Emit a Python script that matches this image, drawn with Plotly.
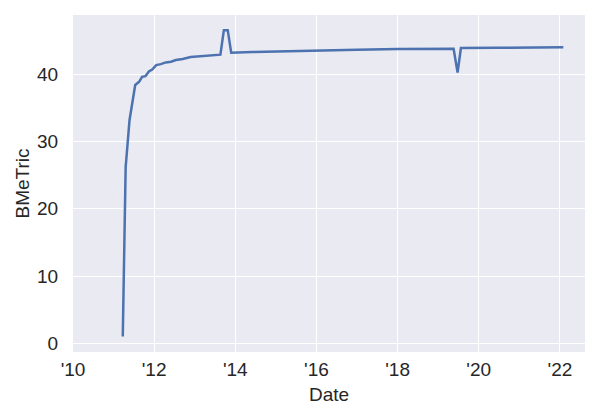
import plotly.graph_objects as go

dates = [
    "2011-03-25", "2011-04-20", "2011-05-25", "2011-06-10", "2011-07-15",
    "2011-08-20", "2011-09-15", "2011-10-15", "2011-11-15", "2011-12-15",
    "2012-01-20", "2012-03-01", "2012-04-15", "2012-06-01", "2012-07-15",
    "2012-09-15", "2012-11-25", "2013-08-20", "2013-09-20", "2013-10-25",
    "2013-11-25", "2014-06-01", "2015-01-01", "2016-01-01", "2017-01-01",
    "2018-01-01", "2019-05-20", "2019-06-25", "2019-07-25", "2020-06-01",
    "2022-02-01",
]
bmetric = [
    1.0, 26.2, 33.2, 34.9, 38.4,
    38.9, 39.6, 39.7, 40.4, 40.7,
    41.35, 41.5, 41.75, 41.85, 42.1,
    42.25, 42.55, 42.9, 46.55, 46.55,
    43.2, 43.3, 43.4, 43.55, 43.65,
    43.75, 43.8, 40.25, 43.9, 43.92,
    44.0,
]

fig = go.Figure(go.Scatter(
    x=dates, y=bmetric, mode="lines",
    line=dict(color="#4C72B0", width=2.5),
))

font = dict(family="Liberation Sans, Arial, sans-serif", size=19, color="#262626")
fig.update_layout(
    width=600, height=420,
    margin=dict(l=73, r=15, t=15, b=68),
    paper_bgcolor="white", plot_bgcolor="#EAEAF2",
    font=font, showlegend=False,
)
fig.update_xaxes(
    type="date", range=["2010-01-01", "2022-08-15"],
    tick0="2010-01-01", dtick="M24", tickformat="'%y",
    showgrid=True, gridcolor="white", gridwidth=1.3,
    zeroline=False, showline=False, automargin=False,
    ticks="outside", ticklen=0, tickcolor="rgba(0,0,0,0)",
    title=dict(text="Date", font=dict(size=19), standoff=8),
    tickfont=dict(size=19),
)
fig.update_yaxes(
    range=[-1.29, 48.8], tick0=0, dtick=10,
    showgrid=True, gridcolor="white", gridwidth=1.3,
    zeroline=False, showline=False, automargin=False,
    ticks="outside", ticklen=10, tickcolor="rgba(0,0,0,0)",
    title=dict(text="BMeTric", font=dict(size=19), standoff=2),
    tickfont=dict(size=19),
)

fig.write_html(
    "out.html",
    config={"displayModeBar": False},
    post_script="document.body.style.margin='0';document.body.style.padding='0';",
)
